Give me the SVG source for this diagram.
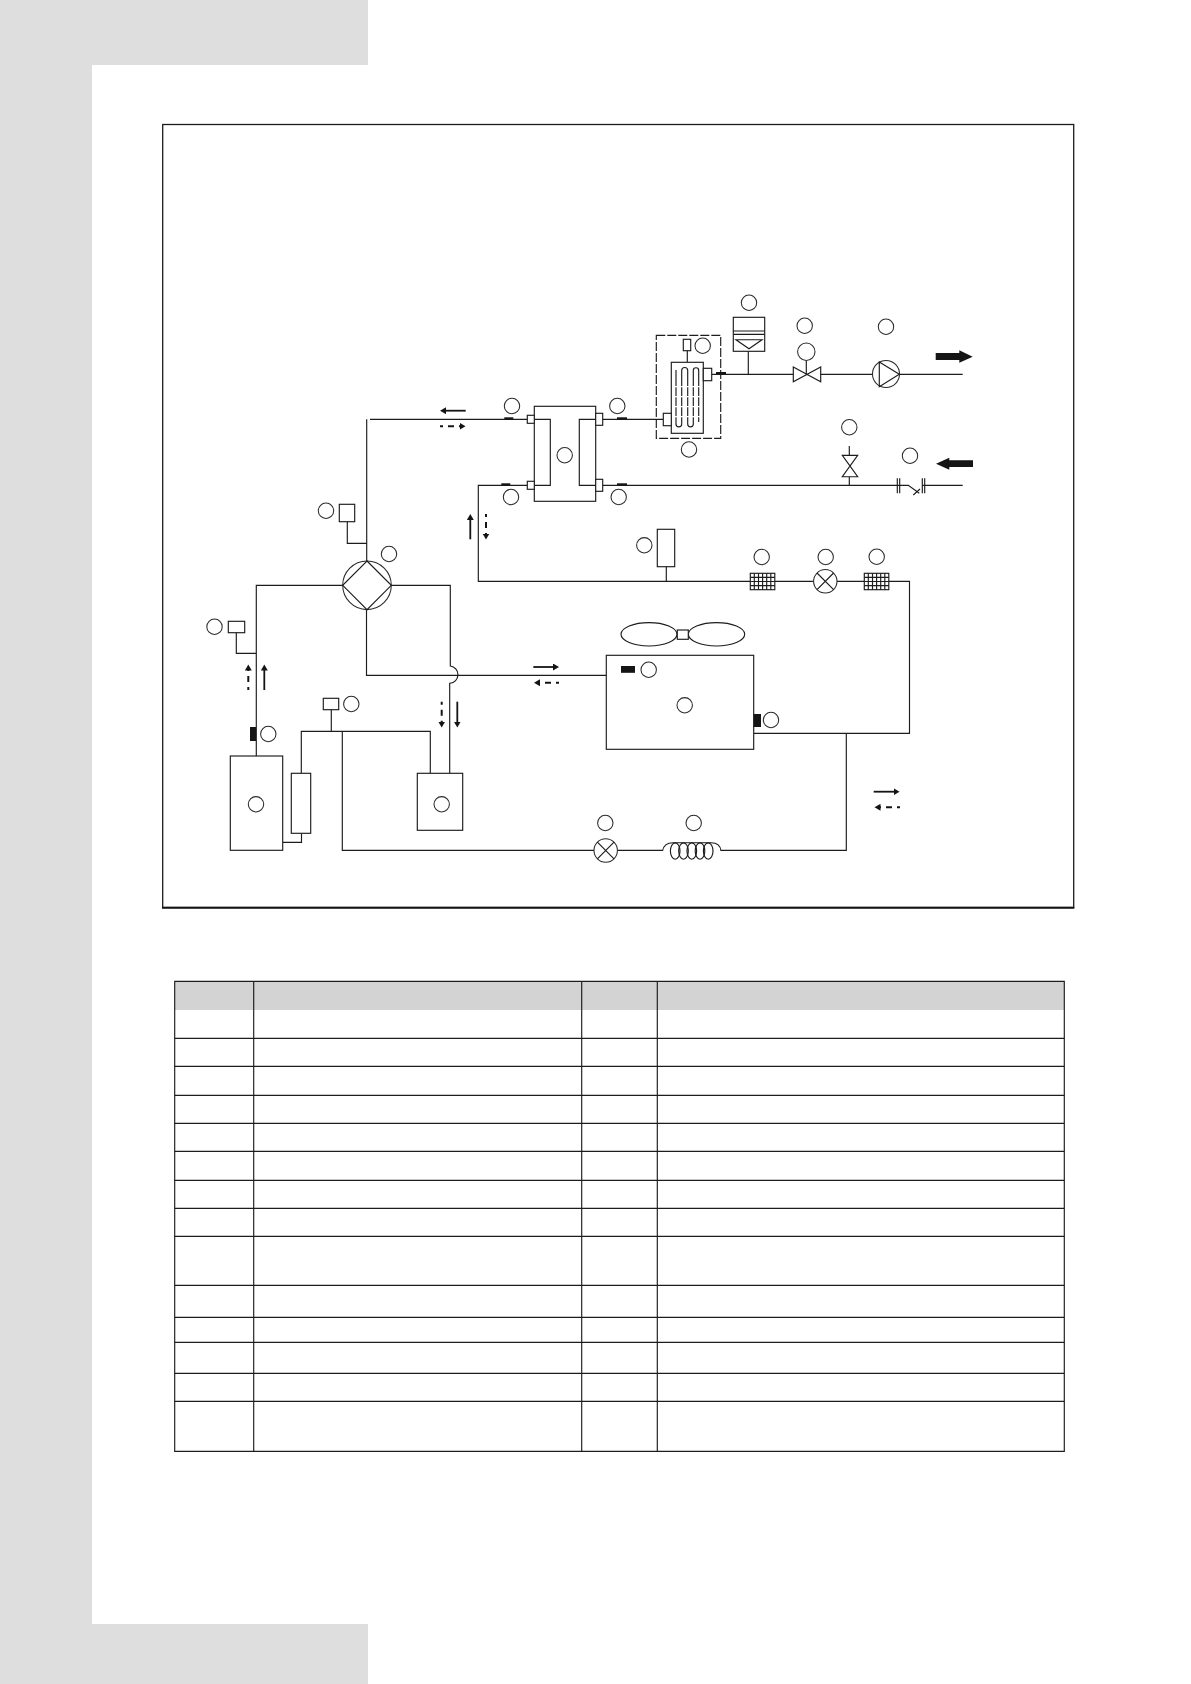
<svg xmlns="http://www.w3.org/2000/svg" width="1191" height="1684" viewBox="0 0 1191 1684">
<style>
.l{fill:none;stroke:#1c1c1c;stroke-width:1.15}
.b{fill:#fff;stroke:#1c1c1c;stroke-width:1.15}
.c{fill:#fff;stroke:#2a2a2a;stroke-width:1.05}
.k{fill:#151515;stroke:none}
.a{fill:none;stroke:#141414;stroke-width:1.8;marker-end:url(#h)}
.d{fill:none;stroke:#141414;stroke-width:2;stroke-dasharray:3 5 6 5;marker-end:url(#h)}
.t{fill:none;stroke:#1c1c1c;stroke-width:1.15}
</style>
<defs>
<marker id="h" markerUnits="userSpaceOnUse" markerWidth="7" markerHeight="7" refX="0.5" refY="3.5" orient="auto"><path d="M0 0L6 3.5L0 7Z" fill="#141414"/></marker>
<g id="grid"><rect class="b" width="24.5" height="16.4"/><path class="l" d="M4 0V16.4M8.2 0V16.4M12.3 0V16.4M16.4 0V16.4M20.5 0V16.4M0 4.1H24.5M0 8.2H24.5M0 12.3H24.5"/></g>
<g id="xv"><circle class="c" r="11.7"/><path class="l" d="M-8.3 -8.3L8.3 8.3M-8.3 8.3L8.3 -8.3"/></g>
</defs>
<path id="page-band" d="M0 0H368V65H92V1624H368V1684H0Z" fill="#dedede"/>
<rect id="frame" x="162.7" y="124.5" width="911" height="783" fill="#fff" stroke="#1c1c1c" stroke-width="1.3"/>
<path d="M162 907.7H1074.3" stroke="#141414" stroke-width="2" fill="none"/>
<g id="connectors">
<path class="l" d="M370 419.3H527.3M366.7 419.3V561M347.3 521.7V543.3H366.7"/>
<path class="l" d="M342.7 585.3H256.3V756M236.3 632.7V653.3H256.3"/>
<path class="l" d="M391.3 585.3H450.3V666A8.7 8.7 0 0 1 450 683.3H449.7V773.3"/>
<path class="l" d="M366.5 609.6V675.3H606.3"/>
<path class="l" d="M430.3 773.3V731.3H301.3V773.3M301.5 833.3V842.3H282.7M331.3 709.7V731.3M342.3 731.3V850.3H594.3M617.4 850.3H662.5M721 850.3H846.3V733.3M753.7 733.3H909.5V581.3H888.7M864.3 581.3H837M813.7 581.3H775M750.3 581.3H478.3V485.3H527.3"/>
<path class="l" d="M602.7 419.3H663.3M602.7 485.3H908.3L919.3 493.3M913.3 495L920 489M922.3 485.3H962.7M666.3 566.7V581.3"/>
<path class="l" d="M711.7 374.3H793.3M820.7 374.3H872.7M899.3 374.3H962.7M748.3 351.3V374.3M806.3 360.4V374M849.3 446V455.3M849.3 476.7V485.3M687.3 350.7V362.3"/>
</g>
<g id="flow-arrows">
<path class="a" d="M465.7 410.7H445.5"/><path class="d" d="M440 426.3H460"/>
<path class="a" d="M470.3 539.3V519.5"/><path class="d" d="M486 514V534"/>
<path class="a" d="M533.3 667H553.5"/><path class="d" d="M559 682.7H539.5"/>
<path class="a" d="M873.7 791.7H894"/><path class="d" d="M900 807.3H880"/>
<path class="a" d="M457.3 701.7V722"/><path class="d" d="M441.7 701.7V722"/>
<path class="a" d="M264.3 690V670"/><path class="d" d="M248.3 690V670"/>
<path class="k" d="M935.7 353H959.3V350.3L972.7 356.7L959.3 362.7V360H935.7Z"/>
<path class="k" d="M973 460.3H949.3V457.7L936 463.7L949.3 469.7V467H973Z"/>
</g>
<g id="node-four-way"><circle class="c" cx="367" cy="585.3" r="24.3"/><path class="l" d="M367 561L391.3 585.3L367 609.6L342.7 585.3Z"/><circle class="c" cx="389" cy="554" r="7.7"/></g>
<g id="node-sensor-hp"><rect class="b" x="339.3" y="504.3" width="15.4" height="17.4"/><circle class="c" cx="326" cy="510.7" r="7.7"/></g>
<g id="node-sensor-lp"><rect class="b" x="228.3" y="621.3" width="16.4" height="11.4"/><circle class="c" cx="214.5" cy="626.7" r="7.7"/></g>
<g id="node-discharge-temp"><rect class="k" x="250" y="727" width="6" height="14"/><circle class="c" cx="268.3" cy="734" r="7.7"/></g>
<g id="node-compressor"><rect class="b" x="230.3" y="756" width="52.4" height="94.3"/><circle class="c" cx="256" cy="804.3" r="7.7"/></g>
<g id="node-separator"><rect class="b" x="291.3" y="773.3" width="19.4" height="60"/></g>
<g id="node-suction-sensor"><rect class="b" x="323.3" y="698.3" width="15.4" height="11.4"/><circle class="c" cx="351.3" cy="704" r="7.7"/></g>
<g id="node-accumulator"><rect class="b" x="417.3" y="773.3" width="45.4" height="57"/><circle class="c" cx="441.7" cy="804.3" r="7.7"/></g>
<g id="node-expansion-lower"><use href="#xv" x="605.7" y="850.5"/><circle class="c" cx="605.3" cy="823" r="7.7"/></g>
<g id="node-capillary"><path class="l" d="M662.5 851C663.500 845 667 842.700 673 842.700H711C717 842.700 720.500 845 721 851"/><ellipse class="l" cx="675.200" cy="851" rx="4.800" ry="8.200"/><ellipse class="l" cx="683.500" cy="851" rx="4.800" ry="8.200"/><ellipse class="l" cx="691.800" cy="851" rx="4.800" ry="8.200"/><ellipse class="l" cx="700" cy="851" rx="4.800" ry="8.200"/><ellipse class="l" cx="708.200" cy="851" rx="4.800" ry="8.200"/><circle class="c" cx="693.700" cy="823" r="7.700"/></g>
<g id="node-condenser"><rect class="b" x="606.300" y="655.300" width="147.400" height="94"/><rect class="k" x="621" y="666" width="14" height="6.800"/><circle class="c" cx="648.700" cy="669.700" r="7.700"/><circle class="c" cx="684.700" cy="705.300" r="7.700"/><rect class="k" x="753.700" y="714" width="7.300" height="13"/><circle class="c" cx="771" cy="720" r="7.700"/></g>
<g id="node-fan"><ellipse class="l" cx="649" cy="634.300" rx="28" ry="11.700"/><ellipse class="l" cx="716.500" cy="634.300" rx="28.200" ry="11.700"/><rect class="b" x="677.300" y="630" width="11" height="9.300"/></g>
<g id="node-plate-hx"><rect class="b" x="534.300" y="406.300" width="61.400" height="95"/><path class="l" d="M534.300 419.300H550.300V485.300H534.300M595.700 419.300H579.300V485.300H595.700"/><rect class="b" x="527.300" y="415.300" width="7" height="8"/><rect class="b" x="527.300" y="481.300" width="7" height="8"/><rect class="b" x="595.700" y="413.300" width="7" height="12"/><rect class="b" x="595.700" y="479.300" width="7" height="12"/><circle class="c" cx="564.700" cy="455.300" r="7.700"/></g>
<g id="node-hx-temps"><rect class="k" x="504.300" y="417.300" width="9" height="2"/><rect class="k" x="501.300" y="483.300" width="9" height="2"/><rect class="k" x="617" y="417.300" width="10" height="2"/><rect class="k" x="617" y="483.300" width="10" height="2"/><circle class="c" cx="512" cy="406" r="7.700"/><circle class="c" cx="617.300" cy="406" r="7.700"/><circle class="c" cx="511" cy="497" r="7.700"/><circle class="c" cx="618.700" cy="497" r="7.700"/></g>
<g id="node-backup-heater"><rect x="656.300" y="335.300" width="64.400" height="103" fill="none" stroke="#1c1c1c" stroke-width="1.15" stroke-dasharray="9 2"/><rect class="b" x="671.300" y="362.300" width="32" height="71"/><rect class="b" x="683.300" y="339.300" width="7.400" height="11.400"/><rect class="b" x="703.300" y="368.300" width="8.400" height="12.400"/><rect class="b" x="663.300" y="413.300" width="8" height="12.400"/><path class="l" d="M676 370V424A2.850 2.850 0 0 0 681.700 424V370.500A3 3 0 0 1 687.700 370.500V424A2.800 2.800 0 0 0 693.300 424V370.500A2.700 2.700 0 0 1 698.700 370.500V422"/><path d="M674.500 386.700H700.500M674.500 396.700H700.500M674.500 406.700H700.500M674.500 416.700H700.500" fill="none" stroke="#fff" stroke-width="1.300"/><rect class="k" x="716" y="372" width="10" height="2.200"/><circle class="c" cx="702.700" cy="345.700" r="7.700"/><circle class="c" cx="689" cy="449.500" r="7.700"/></g>
<g id="node-expansion-tank"><rect class="b" x="733.300" y="317.300" width="31.400" height="34"/><path class="l" d="M733.300 331H764.700M733.300 334.300H764.700M736 339.700H762L749 348.700Z"/><circle class="c" cx="749" cy="302.700" r="7.700"/></g>
<g id="node-valve"><path class="b" d="M793.300 367L820.700 381.700V367L793.300 381.700Z"/><circle class="c" cx="806.300" cy="351.700" r="8.700"/><circle class="c" cx="804.700" cy="325.700" r="7.700"/></g>
<g id="node-pump"><circle class="c" cx="886" cy="374" r="13.500"/><path class="l" d="M879.300 362L899.300 374.300L879.300 386.700Z"/><circle class="c" cx="886" cy="326.700" r="7.700"/></g>
<g id="node-vent-valve"><path class="b" d="M842.300 455.300H857.700L842.300 476.700H857.700Z"/><circle class="c" cx="849.300" cy="427.300" r="7.700"/></g>
<g id="node-strainer"><path class="l" d="M897.300 478.300V493.300M899.700 478.300V493.300M922.300 478.300V493.300M924.700 478.300V493.300"/><circle class="c" cx="910" cy="455.700" r="7.700"/></g>
<g id="node-receiver"><rect class="b" x="657.300" y="529.300" width="17.400" height="37.400"/><circle class="c" cx="644.300" cy="545.300" r="7.700"/></g>
<g id="node-filter-a"><use href="#grid" x="750.300" y="573.300"/><circle class="c" cx="761.700" cy="557" r="7.700"/></g>
<g id="node-expansion-upper"><use href="#xv" x="825.300" y="581.300"/><circle class="c" cx="825.700" cy="557" r="7.700"/></g>
<g id="node-filter-b"><use href="#grid" x="864.300" y="573.300"/><circle class="c" cx="876.700" cy="556.700" r="7.700"/></g>
<g id="legend-table">
<rect x="174.700" y="981.300" width="889.600" height="28.700" fill="#d3d3d3"/>
<path class="t" d="M174.700 981.300H1064.300V1451.300H174.700ZM253.700 981.300V1451.300M581.700 981.300V1451.300M657.300 981.300V1451.300"/>
<path class="t" d="M174.700 1038.300H1064.300M174.700 1066.300H1064.300M174.700 1095.300H1064.300M174.700 1123.300H1064.300M174.700 1151.300H1064.300M174.700 1180.300H1064.300M174.700 1208.300H1064.300M174.700 1236.300H1064.300M174.700 1285.300H1064.300M174.700 1317.300H1064.300M174.700 1342.300H1064.300M174.700 1373.300H1064.300M174.700 1401.300H1064.300"/>
</g>
</svg>
